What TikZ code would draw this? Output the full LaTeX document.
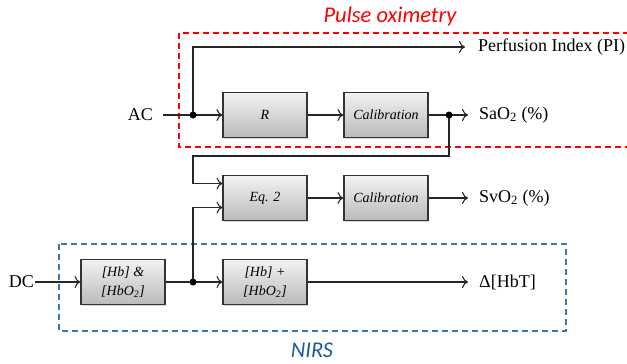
\documentclass[tikz,border=0pt]{standalone}
\usepackage{fontspec}
\setmainfont{Liberation Serif}
\newfontfamily\calib{Carlito}
\usetikzlibrary{arrows.meta,shadows}
\definecolor{nirsblue}{RGB}{60,120,170}
\definecolor{nirstext}{RGB}{30,90,150}
\tikzstyle{block}=[draw=black!80, line width=1.1pt, minimum width=84pt, minimum height=45pt,
    top color=black!5, bottom color=black!27,
    drop shadow={shadow xshift=1.2pt, shadow yshift=-1.2pt, opacity=0.3},
    font=\fontsize{14}{18.5}\selectfont\itshape, align=center, inner sep=0pt]
\tikzstyle{signal}=[font=\fontsize{18}{20}\selectfont, inner sep=0pt]
\tikzstyle{wire}=[line width=1.1pt, draw=black!85, -{To[length=6pt,width=12pt]}]
\tikzstyle{junction}=[circle, fill=black, inner sep=0pt, minimum size=7pt]
\tikzstyle{region}=[line width=1.1pt, dash pattern=on 6pt off 4pt]
\tikzstyle{caption}=[font=\calib\fontsize{22.5}{24}\selectfont\itshape]

\begin{document}
\begin{tikzpicture}[x=1pt,y=-1pt]

    \useasboundingbox (0,0) rectangle (627,364);
    \clip (0,0) rectangle (627,364);

    % regions
    \draw[region, red]      (179, 33) rectangle (640,147);
    \draw[region, nirsblue] ( 59,244) rectangle (566,331);
    \node[caption, red]      (pulse) at (390,17)  {Pulse oximetry};
    \node[caption, nirstext] (nirs)  at (312,350) {NIRS};

    % blocks
    \node[block] (r)    at (265,115) {R};
    \node[block] (cal1) at (386,115) {Calibration};
    \node[block] (eq2)  at (265,198) {Eq. 2};
    \node[block] (cal2) at (386,198) {Calibration};
    \node[block] (hb1)  at (123,282) {[Hb] \&\\{}[HbO\textsubscript{2}]};
    \node[block] (hbt)  at (265,282) {[Hb] +\\{}[HbO\textsubscript{2}]};

    % inputs and outputs
    \node[signal, anchor=east] (ac)   at (153,115) {AC};
    \node[signal, anchor=east] (dc)   at ( 34,282) {DC};
    \node[signal, anchor=west] (pi)   at (478, 47) {Perfusion Index (PI)};
    \node[signal, anchor=west] (sao2) at (479,115) {SaO\textsubscript{2} (\%)};
    \node[signal, anchor=west] (svo2) at (479,198) {SvO\textsubscript{2} (\%)};
    \node[signal, anchor=west] (dhbt) at (479,282) {Δ[HbT]};

    \coordinate (acin) at (163,115);
    \coordinate (fb)   at (193,156);

    % wires
    \draw[wire] (acin) -- (r);
    \draw[wire, shorten >=13pt] (193,115) |- (pi.west);
    \draw[wire] (r) -- (cal1);
    \draw[wire, shorten >=11pt] (cal1) -- (sao2.west);
    \draw[wire] (449,115) |- (fb) |- ([yshift=14.5pt]eq2.west);
    \draw[wire] (eq2) -- (cal2);
    \draw[wire, shorten >=11pt] (cal2) -- (svo2.west);
    \draw[wire, shorten <=1pt] (dc) -- (hb1);
    \draw[wire] (hb1) -- (hbt);
    \draw[wire, shorten >=11pt] (hbt) -- (dhbt.west);
    \draw[wire] (193,282) |- ([yshift=-9.5pt]eq2.west);

    % junctions
    \node[junction] (d1) at (193,115) {};
    \node[junction] (d2) at (449,115) {};
    \node[junction] (d3) at (193,282) {};

\end{tikzpicture}
\end{document}
